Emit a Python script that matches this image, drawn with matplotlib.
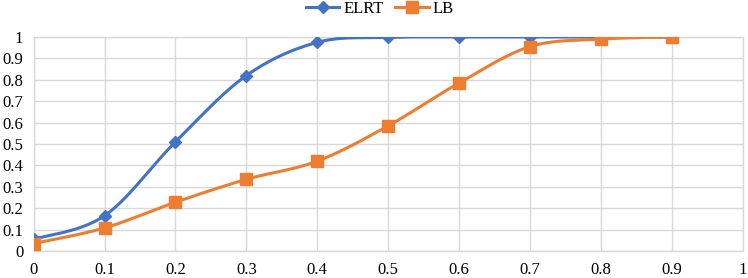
import numpy as np
import matplotlib
matplotlib.use("Agg")
import matplotlib.pyplot as plt
from matplotlib.lines import Line2D

# --- Data ---
x_vals = [0, 0.1, 0.2, 0.3, 0.4, 0.5, 0.6, 0.7, 0.8, 0.9]
elrt = [0.055, 0.165, 0.51, 0.82, 0.975, 0.998, 1.0, 1.0, 1.0, 1.0]
lb = [0.035, 0.108, 0.228, 0.335, 0.42, 0.585, 0.785, 0.955, 0.99, 1.0]
x_ticks = [0, 0.1, 0.2, 0.3, 0.4, 0.5, 0.6, 0.7, 0.8, 0.9, 1]
y_ticks = [0, 0.1, 0.2, 0.3, 0.4, 0.5, 0.6, 0.7, 0.8, 0.9, 1]

BLUE = "#4472C4"
ORANGE = "#ED7D31"
GRID = "#D9D9D9"

plt.rcParams["font.family"] = ["Liberation Serif", "DejaVu Serif"]


def smooth(xs, ys, n=30):
    """Excel-like smoothed line: cubic Bezier segments (Catmull-Rom style)."""
    p = np.column_stack([xs, ys]).astype(float)
    out = [p[0]]
    t = np.linspace(0, 1, n)[1:, None]
    for i in range(len(p) - 1):
        p0 = p[max(i - 1, 0)]
        p1, p2 = p[i], p[i + 1]
        p3 = p[min(i + 2, len(p) - 1)]
        c1 = p1 + (p2 - p0) / 6
        c2 = p2 - (p3 - p1) / 6
        seg = ((1 - t) ** 3) * p1 + 3 * ((1 - t) ** 2) * t * c1 \
            + 3 * (1 - t) * t ** 2 * c2 + t ** 3 * p2
        out.extend(seg)
    out = np.array(out)
    return out[:, 0], out[:, 1]


fig = plt.figure(figsize=(7.48, 2.78), dpi=100)
ax = fig.add_axes([0.045, 0.097, 0.948, 0.770])

sx, sy = smooth(x_vals, elrt)
ax.plot(sx, sy, color=BLUE, lw=2.2, zorder=3)
ax.plot(x_vals, elrt, ls="none", marker="D", ms=6.5, color=BLUE, zorder=4)

sx, sy = smooth(x_vals, lb)
ax.plot(sx, sy, color=ORANGE, lw=2.2, zorder=3)
ax.plot(x_vals, lb, ls="none", marker="s", ms=8, color=ORANGE, zorder=4)

ax.set_xlim(0, 1)
ax.set_ylim(0, 1)
ax.set_xticks(x_ticks)
ax.set_yticks(y_ticks)
ax.set_xticklabels([f"{v:g}" for v in x_ticks])
ax.set_yticklabels([f"{v:g}" for v in y_ticks])
ax.tick_params(length=0, labelsize=12, colors="#000000")
ax.tick_params(axis="x", pad=8)
ax.tick_params(axis="y", pad=7.5)
ax.grid(True, color=GRID, lw=1)
for s in ax.spines.values():
    s.set_color(GRID)
    s.set_linewidth(1)
ax.set_axisbelow(True)

handles = [
    Line2D([], [], color=BLUE, lw=2.2, marker="D", ms=6.5),
    Line2D([], [], color=ORANGE, lw=2.2, marker="s", ms=8),
]
fig.legend(handles, ["ELRT", "LB"], loc="center", bbox_to_anchor=(0.508, 0.968),
           ncol=2, frameon=False, fontsize=12, handlelength=2.0,
           columnspacing=0.7, handletextpad=0.25, borderpad=0)

fig.savefig("out.png", dpi=100, facecolor="white")
